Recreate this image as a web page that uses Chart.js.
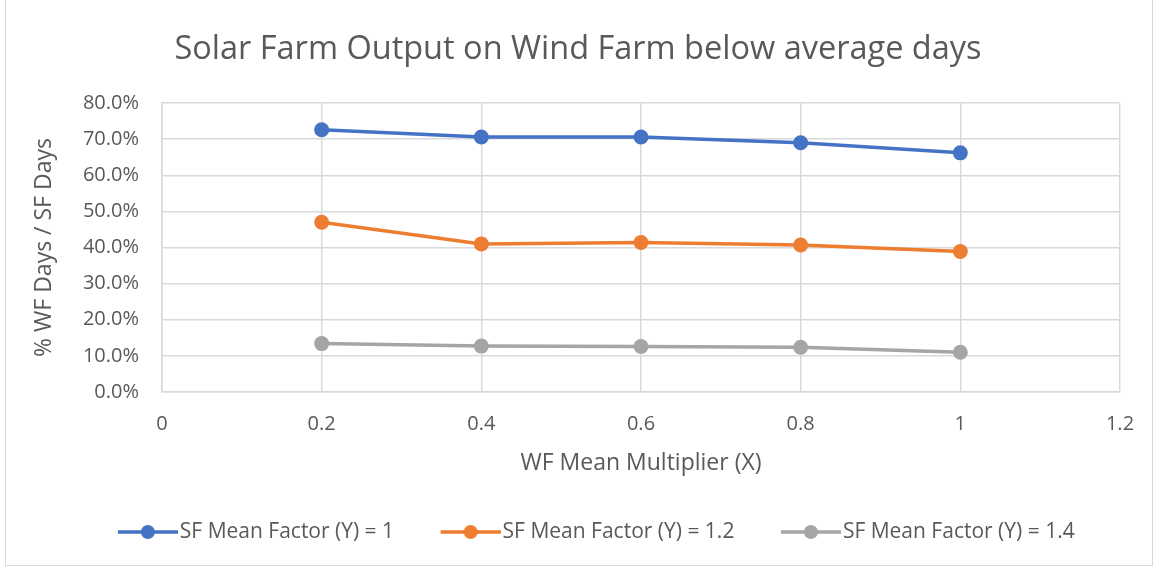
<!DOCTYPE html>
<html lang="en">
<head>
  <meta charset="UTF-8">
  <title>Solar Farm Output on Wind Farm below average days</title>
  <script src="https://cdn.jsdelivr.net/npm/chart.js"></script>
  <style>
    body { margin: 0; background: #fff; font-family: 'Open Sans', sans-serif; }
    .frame { position: absolute; left: 5px; top: -2px; width: 1148px; height: 568px; border: 1px solid #d9d9d9; box-sizing: border-box; }
    canvas { position: absolute; left: 0; top: 0; }
  </style>
</head>
<body>
  <div class="frame"></div>
  <canvas id="solarChart" width="1156" height="569"></canvas>
  <script>
    // WF mean multiplier (x) and % WF days / SF days per SF mean factor
    const multipliers = [0.2, 0.4, 0.6, 0.8, 1];
    const sfFactor1 = [72.6, 70.6, 70.6, 69.0, 66.2];
    const sfFactor12 = [47.0, 41.0, 41.4, 40.7, 38.9];
    const sfFactor14 = [13.4, 12.7, 12.6, 12.4, 11.0];
    const seriesNames = ['SF Mean Factor (Y) = 1', 'SF Mean Factor (Y) = 1.2', 'SF Mean Factor (Y) = 1.4'];
    const colors = ['#4472C4', '#ED7D31', '#A5A5A5'];

    const textColor = '#595959';
    const gridColor = '#d9d9d9';

    // legend symbol: line with a dot in the middle (blank space on the left acts as gap)
    function legendMark(color) {
      const c = document.createElement('canvas');
      c.width = 105; c.height = 18;
      const g = c.getContext('2d');
      g.strokeStyle = color; g.lineWidth = 3.5;
      g.beginPath(); g.moveTo(45, 9); g.lineTo(105, 9); g.stroke();
      g.fillStyle = color;
      g.beginPath(); g.arc(75, 9, 7, 0, Math.PI * 2); g.fill();
      return c;
    }

    function makeSet(i, values) {
      return {
        label: seriesNames[i],
        data: multipliers.map((x, k) => ({ x: x, y: values[k] })),
        borderColor: colors[i],
        backgroundColor: colors[i],
        borderWidth: 3.5,
        pointRadius: 7.5,
        pointHoverRadius: 7.5,
        pointBorderWidth: 0,
        pointStyle: 'circle',
        legendMark: legendMark(colors[i]),
        tension: 0
      };
    }

    const datasets = [makeSet(0, sfFactor1), makeSet(1, sfFactor12), makeSet(2, sfFactor14)];

    Chart.defaults.font.family = "'Open Sans', sans-serif";
    Chart.defaults.color = textColor;

    new Chart(document.getElementById('solarChart'), {
      type: 'line',
      data: { datasets: datasets },
      options: {
        responsive: false,
        animation: false,
        devicePixelRatio: 1,
        layout: { padding: { left: 0, right: 0, top: 0, bottom: 16.5 } },
        plugins: {
          title: {
            display: true,
            text: 'Solar Farm Output on Wind Farm below average days',
            color: textColor,
            font: { size: 32.5, weight: 'normal' },
            padding: { top: 30.5, bottom: 33.5 }
          },
          legend: {
            position: 'bottom',
            labels: {
              usePointStyle: true,
              pointStyleWidth: 88,
              padding: 10,
              color: textColor,
              font: { size: 21 },
              generateLabels: function (chart) {
                return chart.data.datasets.map((ds, i) => ({
                  text: ds.label,
                  fillStyle: ds.backgroundColor,
                  strokeStyle: ds.borderColor,
                  lineWidth: 0,
                  pointStyle: ds.legendMark,
                  fontColor: textColor,
                  hidden: false,
                  datasetIndex: i
                }));
              }
            }
          },
          tooltip: { enabled: false }
        },
        scales: {
          x: {
            type: 'linear',
            min: 0,
            max: 1.2,
            afterFit: s => { s.height = 119.5; },
            ticks: {
              stepSize: 0.2,
              padding: 20,
              color: textColor,
              font: { size: 20 },
              callback: v => String(parseFloat(v.toFixed(1)))
            },
            grid: { color: gridColor, lineWidth: 1.5, drawTicks: false },
            border: { color: gridColor, width: 1.5 },
            title: {
              display: true,
              text: 'WF Mean Multiplier (X)',
              color: textColor,
              font: { size: 23 },
              padding: { top: 0, bottom: 34.5 }
            }
          },
          y: {
            min: 0,
            max: 80,
            afterFit: s => { s.width = 162; },
            ticks: {
              stepSize: 10,
              padding: 23,
              color: textColor,
              font: { size: 20 },
              callback: v => v.toFixed(1) + '%'
            },
            grid: { color: gridColor, lineWidth: 1.5, drawTicks: false },
            border: { color: gridColor, width: 1.5 },
            title: {
              display: true,
              text: '% WF Days / SF Days',
              color: textColor,
              font: { size: 23 },
              padding: { top: 31, bottom: 0 }
            }
          },
          // empty right-hand gutter so title and legend centre on the full width
          gutter: {
            position: 'right',
            min: 0,
            max: 1,
            afterFit: s => { s.width = 36; },
            ticks: { display: false },
            grid: { display: false },
            border: { display: false }
          }
        }
      }
    });
  </script>
</body>
</html>
